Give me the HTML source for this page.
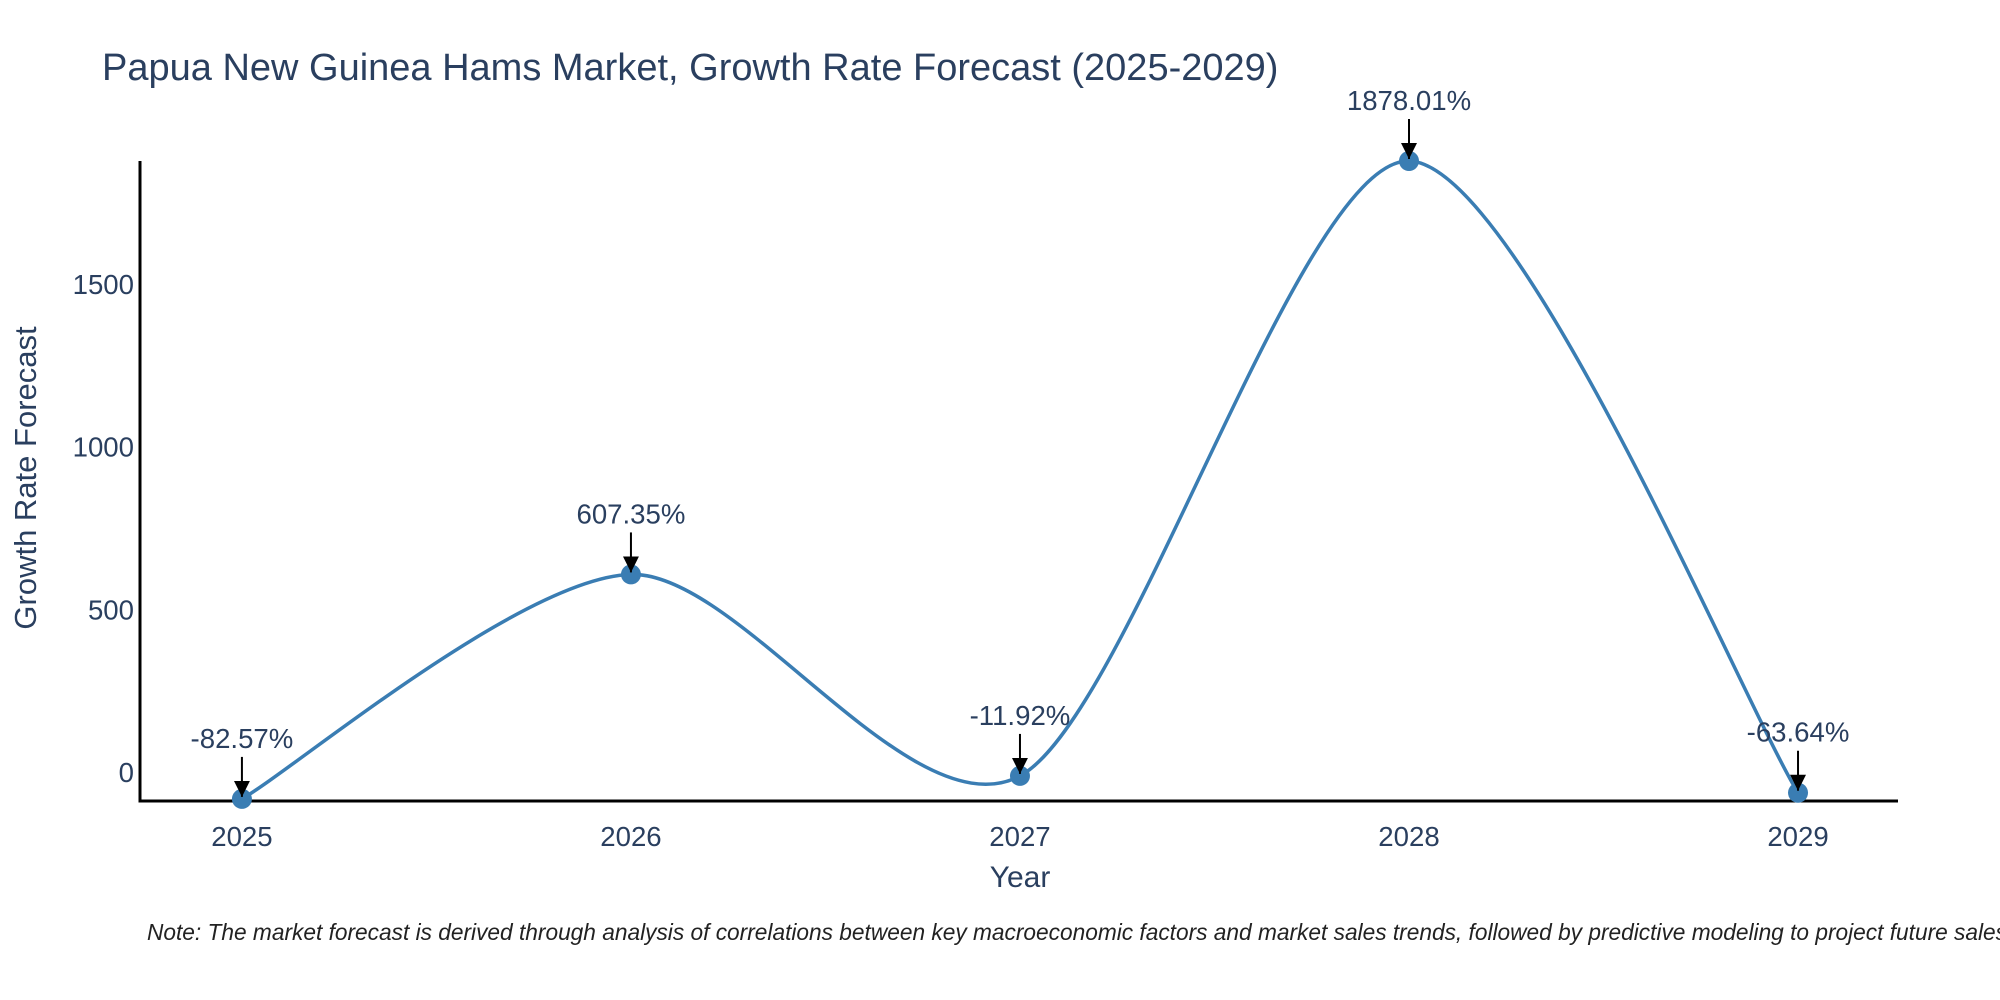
<!DOCTYPE html>
<html><head><meta charset="utf-8">
<style>
html,body{margin:0;padding:0;background:#fff;}
svg{display:block;font-family:"Liberation Sans","DejaVu Sans",sans-serif;}
</style></head>
<body>
<svg id="chart" width="2000" height="1000" viewBox="0 0 2000 1000">
<text x="102" y="80" font-size="38" fill="#2a3f5f">Papua New Guinea Hams Market, Growth Rate Forecast (2025-2029)</text>
<g id="plot"></g>
<text x="1020" y="887" font-size="30" fill="#2a3f5f" text-anchor="middle">Year</text>
<text x="0" y="0" font-size="31" fill="#2a3f5f" text-anchor="middle" transform="translate(36,478) rotate(-90)">Growth Rate Forecast</text>
<text x="147" y="940" font-size="22.7" font-style="italic" fill="#222">Note: The market forecast is derived through analysis of correlations between key macroeconomic factors and market sales trends, followed by predictive modeling to project future sales.</text>
</svg>
<script>
const years = [2025, 2026, 2027, 2028, 2029];
const growth = [-82.57, 607.35, -11.92, 1878.01, -63.64];
const labels = ["-82.57%", "607.35%", "-11.92%", "1878.01%", "-63.64%"];
const yTicks = [0, 500, 1000, 1500];

const NS = "http://www.w3.org/2000/svg";
const g = document.getElementById('plot');
const L = 140, R = 1898, T = 161, B = 801;
const xMin = 2024.738, xMax = 2029.257, yMin = -89, yMax = 1878.01;
const xs = v => L + (v - xMin) / (xMax - xMin) * (R - L);
const ys = v => B - (v - yMin) / (yMax - yMin) * (B - T);
function mk(tag, attrs, parent) {
  const e = document.createElementNS(NS, tag);
  for (const k in attrs) e.setAttribute(k, attrs[k]);
  (parent || g).appendChild(e);
  return e;
}
let ax = mk('line', {x1: L, y1: T, x2: L, y2: B + 1.5, stroke: '#000', 'stroke-width': 3});


ax = mk('line', {x1: L - 1.5, y1: B, x2: R, y2: B, stroke: '#000', 'stroke-width': 3});


yTicks.forEach(t => {
  const e = mk('text', {x: L - 6, y: ys(t) + 10, 'font-size': 27.6, fill: '#2a3f5f', 'text-anchor': 'end'});
  e.textContent = t;
  
  
});
years.forEach(y => {
  const e = mk('text', {x: xs(y), y: B + 45, 'font-size': 27.6, fill: '#2a3f5f', 'text-anchor': 'middle'});
  e.textContent = y;
  
  
});
const pts = years.map((y, i) => [xs(y), ys(growth[i])]);
let d = 'M' + pts[0][0] + ',' + pts[0][1];
const k = 0.14;
for (let i = 0; i < pts.length - 1; i++) {
  const p0 = pts[Math.max(0, i - 1)], p1 = pts[i], p2 = pts[i + 1], p3 = pts[Math.min(pts.length - 1, i + 2)];
  const c1 = [p1[0] + (p2[0] - p0[0]) * k, p1[1] + (p2[1] - p0[1]) * k];
  const c2 = [p2[0] - (p3[0] - p1[0]) * k, p2[1] - (p3[1] - p1[1]) * k];
  d += ' C' + c1 + ' ' + c2 + ' ' + p2;
}
const line = mk('path', {d: d, fill: 'none', stroke: '#3a7db3', 'stroke-width': 3.5});


mk('defs', {}).innerHTML = '<marker id="ah" viewBox="0 0 10 10" refX="10" refY="5" markerWidth="16" markerHeight="16" markerUnits="userSpaceOnUse" orient="auto"><path d="M0,0 L10,5 L0,10 z" fill="#000"/></marker>';
pts.forEach((p, i) => {
  const c = mk('circle', {cx: p[0], cy: p[1], r: 10, fill: '#3a7db3'});
  
  
  const a = mk('line', {x1: p[0], y1: p[1] - 42, x2: p[0], y2: p[1] - 2, stroke: '#000', 'stroke-width': 2, 'marker-end': 'url(#ah)'});
  
  
  const t = mk('text', {x: p[0], y: p[1] - 51, 'font-size': 27.6, fill: '#2a3f5f', 'text-anchor': 'middle'});
  t.textContent = labels[i];
  
  
});
</script>
</body></html>
